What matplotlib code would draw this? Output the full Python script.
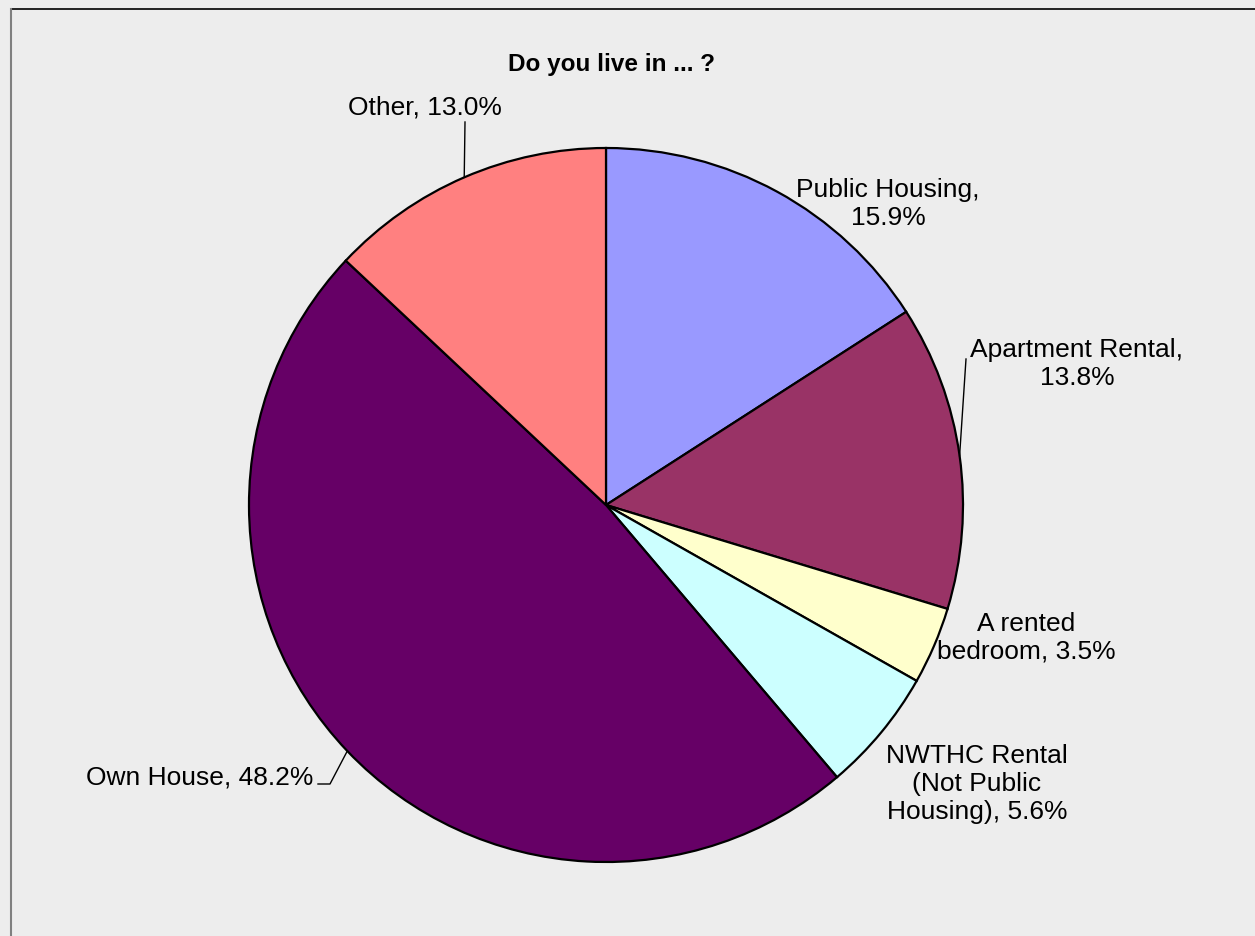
import matplotlib
matplotlib.use("Agg")
from matplotlib import pyplot as plt
from matplotlib.lines import Line2D
import numpy as np

plt.rcParams['font.family'] = ['Liberation Sans', 'DejaVu Sans']

# housing survey shares, clockwise from 12 o'clock
labels = ["Public Housing", "Apartment Rental", "A rented bedroom",
          "NWTHC Rental (Not Public Housing)", "Own House", "Other"]
shares = [15.9, 13.8, 3.5, 5.6, 48.2, 13.0]
colors = ["#9999FF", "#993366", "#FFFFCC", "#CCFFFF", "#660066", "#FF8080"]

label_text = ["Public Housing,\n15.9%", "Apartment Rental,\n13.8%",
              "A rented\nbedroom, 3.5%", "NWTHC Rental\n(Not Public\nHousing), 5.6%",
              "Own House, 48.2%", "Other, 13.0%"]

W, H = 1255, 936
bg = "#EDEDED"
fig = plt.figure(figsize=(W / 100, H / 100), dpi=100, facecolor=bg)
ax = fig.add_axes([0, 0, 1, 1])

cx, cy, r = 606, H - 505, 357
wedges, _ = ax.pie(shares, colors=colors, startangle=90, counterclock=False,
                   center=(cx, cy), radius=r, frame=True,
                   wedgeprops=dict(edgecolor='black', linewidth=1.6))
ax.set_xlim(0, W)
ax.set_ylim(0, H)
ax.set_aspect('equal')
ax.axis('off')

# label placement: (text x, text y, ha) in pixels from the top-left
spots = [(888, 204, 'center'), (1077, 364, 'center'), (1026, 638, 'center'),
         (977, 784, 'center'), (313, 777, 'right'), (425, 107, 'center')]

for txt, (tx, ty, ha) in zip(label_text, spots):
    ax.text(tx, H - ty, txt, ha=ha, va='center', fontsize=19,
            multialignment='center', color='black')

# leader lines
def edge_point(w):
    mid = np.deg2rad((w.theta1 + w.theta2) / 2)
    return cx + r * np.cos(mid), cy + r * np.sin(mid)

px, py = edge_point(wedges[1])
ax.plot([px, 966], [py, H - 359], color='black', lw=1)
px, py = edge_point(wedges[5])
ax.plot([px, 465], [py, H - 122], color='black', lw=1)
px, py = edge_point(wedges[4])
ax.plot([px, 330, 318], [py, H - 784, H - 784], color='black', lw=1)

ax.text(612, H - 64, "Do you live in ... ?", ha='center', va='center',
        fontsize=17.5, fontweight='bold')

# chart frame
fig.add_artist(Line2D([11 / W, 1], [1 - 9 / H, 1 - 9 / H], color='black', lw=1.2,
                      transform=fig.transFigure))
fig.add_artist(Line2D([11.5 / W, 11.5 / W], [0, 1 - 9 / H], color='#808080', lw=1.5,
                      transform=fig.transFigure))

fig.savefig("out.png", dpi=100, facecolor=bg)
